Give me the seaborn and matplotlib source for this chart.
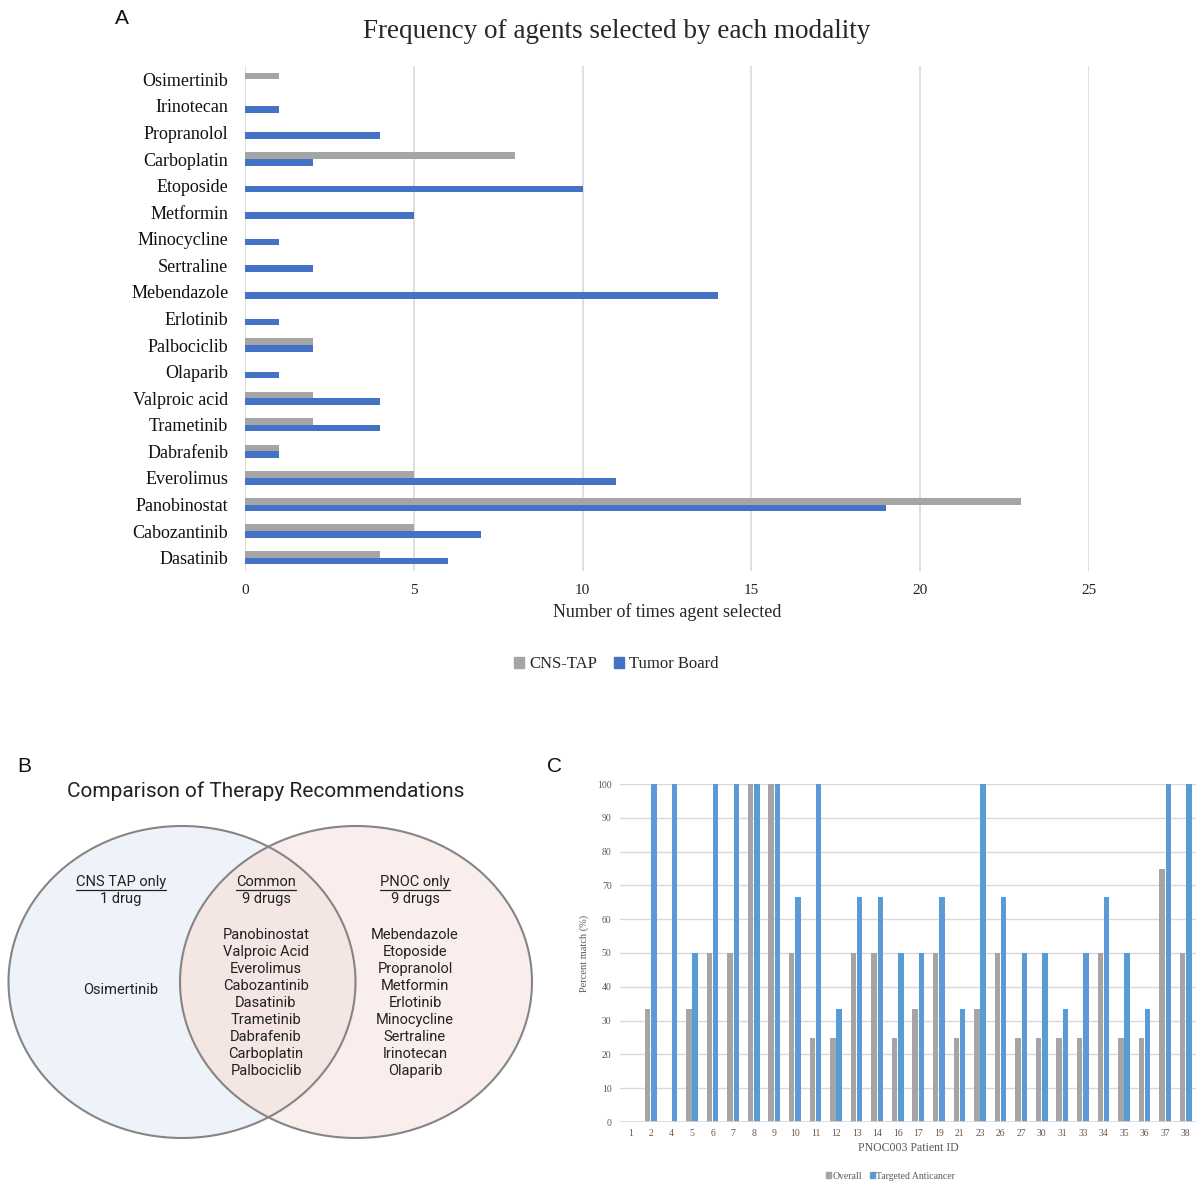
import numpy as np
import pandas as pd
import seaborn as sns
import matplotlib.pyplot as plt
from matplotlib.patches import Ellipse, Patch

# ---- panel A data ----
agents = ['Osimertinib', 'Irinotecan', 'Propranolol', 'Carboplatin', 'Etoposide',
          'Metformin', 'Minocycline', 'Sertraline', 'Mebendazole', 'Erlotinib',
          'Palbociclib', 'Olaparib', 'Valproic acid', 'Trametinib', 'Dabrafenib',
          'Everolimus', 'Panobinostat', 'Cabozantinib', 'Dasatinib']
cns_tap = [1, 0, 0, 8, 0, 0, 0, 0, 0, 0, 2, 0, 2, 2, 1, 5, 23, 5, 4]
tumor_board = [0, 1, 4, 2, 10, 5, 1, 2, 14, 1, 2, 1, 4, 4, 1, 11, 19, 7, 6]

# ---- panel B data ----
cns_only = ['Osimertinib']
common = ['Panobinostat', 'Valproic Acid', 'Everolimus', 'Cabozantinib', 'Dasatinib',
          'Trametinib', 'Dabrafenib', 'Carboplatin', 'Palbociclib']
pnoc_only = ['Mebendazole', 'Etoposide', 'Propranolol', 'Metformin', 'Erlotinib',
             'Minocycline', 'Sertraline', 'Irinotecan', 'Olaparib']

# ---- panel C data ----
patients = ['1', '2', '4', '5', '6', '7', '8', '9', '10', '11', '12', '13', '14', '16',
            '17', '19', '21', '23', '26', '27', '30', '31', '33', '34', '35', '36', '37', '38']
overall = [0, 33.3, 0, 33.3, 50, 50, 100, 100, 50, 25, 25, 50, 50, 25,
           33.3, 50, 25, 33.3, 50, 25, 25, 25, 25, 50, 25, 25, 75, 50]
targeted = [0, 100, 100, 50, 100, 100, 100, 100, 66.7, 100, 33.3, 66.7, 66.7, 50,
            50, 66.7, 33.3, 100, 66.7, 50, 50, 33.3, 50, 66.7, 50, 33.3, 100, 100]

sns.set_style("white")
plt.rcParams['font.family'] = ['Liberation Serif', 'DejaVu Serif']

fig = plt.figure(figsize=(11.97, 11.84), dpi=100)
W, H = 1197, 1184


def box(x0, y0, x1, y1):
    # pixel box (top-left origin) -> figure fraction rect
    return [x0 / W, 1 - y1 / H, (x1 - x0) / W, (y1 - y0) / H]


# ===================== A =====================
dfA = pd.DataFrame({
    'agent': agents * 2,
    'count': cns_tap + tumor_board,
    'modality': ['CNS-TAP'] * len(agents) + ['Tumor Board'] * len(agents),
})
axA = fig.add_axes(box(245, 66, 1089, 571))
sns.barplot(data=dfA, y='agent', x='count', hue='modality', orient='h', order=agents,
            palette={'CNS-TAP': '#a5a5a5', 'Tumor Board': '#4472c4'},
            width=0.5, errorbar=None, saturation=1, linewidth=0, ax=axA, legend=False)
axA.set_xlim(0, 25)
axA.set_xticks(range(0, 26, 5))
axA.xaxis.grid(True, color='#d9d9d9', lw=1.2)
axA.set_axisbelow(True)
for s in axA.spines.values():
    s.set_visible(False)
axA.tick_params(length=0)
axA.tick_params(axis='y', labelsize=13, pad=12, colors='#111111')
axA.tick_params(axis='x', labelsize=11, pad=9, colors='#222222')
axA.set_ylabel('')
axA.set_xlabel('Number of times agent selected', fontsize=13, labelpad=5)
axA.set_title('Frequency of agents selected by each modality', fontsize=19.5, pad=20, x=0.44)
axA.legend(handles=[Patch(color='#a5a5a5', label='CNS-TAP'),
                    Patch(color='#4472c4', label='Tumor Board')],
           loc='center', bbox_to_anchor=(0.44, -0.185), ncol=2, frameon=False,
           fontsize=12, handlelength=0.6, handleheight=0.6, handletextpad=0.3,
           columnspacing=1.0)

# ===================== C =====================
dfC = pd.DataFrame({
    'patient': patients * 2,
    'pct': overall + targeted,
    'series': ['Overall'] * len(patients) + ['Targeted Anticancer'] * len(patients),
})
axC = fig.add_axes(box(620, 784, 1196, 1122))
sns.barplot(data=dfC, x='patient', y='pct', hue='series', order=patients,
            palette={'Overall': '#a5a5a5', 'Targeted Anticancer': '#5b9bd5'},
            width=0.6, gap=0.12, errorbar=None, saturation=1, linewidth=0,
            ax=axC, legend=False)
axC.set_ylim(0, 100)
axC.set_yticks(range(0, 101, 10))
axC.yaxis.grid(True, color='#d9d9d9', lw=1)
axC.set_axisbelow(True)
for s in axC.spines.values():
    s.set_visible(False)
axC.axhline(0, color='#d9d9d9', lw=1.2)
axC.tick_params(length=0, labelsize=7, colors='#595959')
axC.tick_params(axis='y', pad=6)
axC.tick_params(axis='x', pad=5)
axC.set_ylabel('Percent match (%)', fontsize=7.5, color='#595959', labelpad=6)
axC.set_xlabel('PNOC003 Patient ID', fontsize=8.5, color='#595959', labelpad=3)
axC.legend(handles=[Patch(color='#a5a5a5', label='Overall'),
                    Patch(color='#5b9bd5', label='Targeted Anticancer')],
           loc='center', bbox_to_anchor=(0.47, -0.16), ncol=2, frameon=False,
           fontsize=7, handlelength=0.5, handleheight=0.5, handletextpad=0.15,
           columnspacing=0.8, labelcolor='#595959')

# ===================== B (Venn) + panel letters =====================
ov = fig.add_axes([0, 0, 1, 1])
ov.set_xlim(0, W)
ov.set_ylim(H, 0)
ov.axis('off')
ov.patch.set_alpha(0)

sans = ['Roboto', 'DejaVu Sans']
left = Ellipse((182, 982), 347, 312, facecolor='#eef3fa', edgecolor='none')
right = Ellipse((356, 982), 352, 312, facecolor='#f9eeec', edgecolor='none')
ov.add_patch(left)
ov.add_patch(right)
both = Ellipse((356, 982), 352, 312, facecolor='#f3e6e3', edgecolor='none')
ov.add_patch(both)
both.set_clip_path(left)
for e in [Ellipse((182, 982), 347, 312), Ellipse((356, 982), 352, 312)]:
    e.set_facecolor('none')
    e.set_edgecolor('#858585')
    e.set_linewidth(1.5)
    ov.add_patch(e)

ov.text(266, 791, 'Comparison of Therapy Recommendations', family=sans, fontsize=15,
        ha='center', va='center', color='#222222')

heads = []
for cx, head, sub, items, y0 in [(121, 'CNS TAP only', '1 drug', cns_only, 990),
                                 (266, 'Common', '9 drugs', common, 935),
                                 (415, 'PNOC only', '9 drugs', pnoc_only, 935)]:
    t = ov.text(cx, 882, head, family=sans, fontsize=10.5, ha='center', va='center',
                color='#222222')
    heads.append(t)
    ov.text(cx, 899, sub, family=sans, fontsize=10.5, ha='center', va='center',
            color='#222222')
    for i, name in enumerate(items):
        ov.text(cx, y0 + i * 17, name, family=sans, fontsize=10.5, ha='center',
                va='center', color='#222222')

fig.canvas.draw()
inv = ov.transData.inverted()
for t in heads:
    bb = t.get_window_extent()
    (x0, y0), (x1, y1) = inv.transform([[bb.x0, bb.y0], [bb.x1, bb.y1]])
    ov.plot([x0, x1], [890, 890], color='#222222', lw=0.9)

for letter, x, y in [('A', 122, 18), ('B', 24, 766), ('C', 554, 766)]:
    ov.text(x, y, letter, family=['Liberation Sans', 'DejaVu Sans'], fontsize=15,
            ha='center', va='center', color='#111111')

fig.savefig('out.png', dpi=100)
